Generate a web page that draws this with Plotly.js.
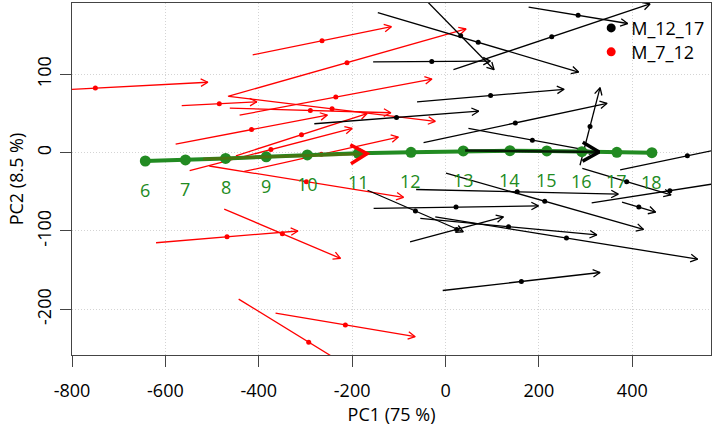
<!DOCTYPE html>
<html><head><meta charset="utf-8">
<script src="https://cdn.plot.ly/plotly-3.0.1.min.js"></script>
<style>html,body{margin:0;padding:0;background:#fff;} #chart{width:714px;height:427px;}</style>
</head><body><div id="chart"></div>
<script>
// ---- Data ----
// M_7_12 (red) arrows: start (x0,y0) -> end (x1,y1)
const redX0 = [-991, -413, -466, -565, -441, -462, -464, -578, -449, -548, -431, -506, -620, -474, -364, -443];
const redY0 = [75, 125, 72, 60, 48, 57, 72, 11, -4, -23, -24, -17, -115, -72, -205, -187];
const redX1 = [-509, -116, 44, -404, -29, -117, -22, -253, -168, -200, -101, -90, -316, -225, -65, -143];
const redY1 = [90, 161, 158, 65, 94, 51, 40, 48, 50, 31, 20, -57, -100, -135, -235, -297];
// M_12_17 (black) arrows
const blkX0 = [-39, -145, -155, 17, 178, -61, -281, -47, 49, 288, 374, 293, -167, -154, -54, -22, -63, 1, 313, 378, -6, -76];
const blkY0 = [193, 179, 116, 106, 186, 65, 37, 13, 31, -16, -22, -20, -48, -71, -84, -82, -47, -26, -64, -63, -176, -114];
const blkX1 = [104, 285, 96, 438, 390, 254, 71, 346, 323, 331, 662, 483, 38, 199, 324, 540, 370, 424, 648, 450, 331, 124];
const blkY1 = [106, 103, 117, 190, 165, 81, 53, 63, 1, 83, 14, -54, -101, -68, -105, -136, -53, -98, -33, -76, -153, -82];
// Mean trajectory by age
const ages = ['6','7','8','9','10','11','12','13','14','15','16','17','18'];
const ageX = [-643, -557, -471, -384, -296, -187, -74, 38, 138, 217, 292, 367, 442];
const ageY = [-10.6, -9.3, -7.3, -5.2, -2.9, -0.8, 0.5, 2.2, 2.6, 2.2, 1.3, 0.5, 0];
// Mean arrows of each group
const meanRedX = [-519, -168], meanRedY = [-8, -1.3];
const meanBlkX = [42, 329], meanBlkY = [2.8, 0.9];
const legendNames = ['M_12_17', 'M_7_12'];
const xTicks = [-800, -600, -400, -200, 0, 200, 400];
const yTicks = [-200, -100, 0, 100];

// ---- Layout geometry ----
const W = 714, H = 427, M = {l: 72, r: 3, t: 3, b: 72};
const XR = [-800, 568.6], YR = [-258.4, 191.2];
const kx = (W - M.l - M.r) / (XR[1] - XR[0]);
const ky = (H - M.t - M.b) / (YR[1] - YR[0]);

function arrowPath(x0s, y0s, x1s, y1s, len, ha) {
  const xs = [], ys = [];
  for (let i = 0; i < x0s.length; i++) {
    const x0 = x0s[i], y0 = y0s[i], x1 = x1s[i], y1 = y1s[i];
    const a = Math.atan2((y1 - y0) * ky, (x1 - x0) * kx);
    xs.push(x0, x1, null,
      x1 + len * Math.cos(a + Math.PI - ha) / kx, x1, x1 + len * Math.cos(a + Math.PI + ha) / kx, null);
    ys.push(y0, y1, null,
      y1 + len * Math.sin(a + Math.PI - ha) / ky, y1, y1 + len * Math.sin(a + Math.PI + ha) / ky, null);
  }
  return {x: xs, y: ys};
}
function headOnly(x0s, y0s, x1s, y1s, len, ha) {
  const p = arrowPath(x0s, y0s, x1s, y1s, len, ha);
  const xs = [], ys = [];
  for (let i = 0; i < p.x.length; i += 7) { xs.push(p.x[i+3], p.x[i+4], p.x[i+5], null); ys.push(p.y[i+3], p.y[i+4], p.y[i+5], null); }
  return {x: xs, y: ys};
}
const mid = (a, b) => a.map((v, i) => (v + b[i]) / 2);

const HA = 28 * Math.PI / 180;
const redP = arrowPath(redX0, redY0, redX1, redY1, 8, HA);
const blkP = arrowPath(blkX0, blkY0, blkX1, blkY1, 8, HA);
const mRedH = headOnly([meanRedX[0]], [meanRedY[0]], [meanRedX[1]], [meanRedY[1]], 19, 30 * Math.PI / 180);
const mBlkH = headOnly([meanBlkX[0]], [meanBlkY[0]], [meanBlkX[1]], [meanBlkY[1]], 19, 30 * Math.PI / 180);

const traces = [
  {x: redP.x, y: redP.y, mode: 'lines', line: {color: '#ff0000', width: 1.3}, showlegend: false, hoverinfo: 'skip'},
  {x: mid(redX0, redX1), y: mid(redY0, redY1), mode: 'markers', marker: {color: '#ff0000', size: 5}, showlegend: false},
  {x: blkP.x, y: blkP.y, mode: 'lines', line: {color: '#000000', width: 1.3}, showlegend: false, hoverinfo: 'skip'},
  {x: mid(blkX0, blkX1), y: mid(blkY0, blkY1), mode: 'markers', marker: {color: '#000000', size: 5}, showlegend: false},
  {x: ageX, y: ageY, mode: 'lines+markers', line: {color: '#228B22', width: 4}, marker: {color: '#228B22', size: 11}, showlegend: false},
  {x: meanRedX, y: meanRedY, mode: 'lines', line: {color: 'rgba(110,95,0,0.5)', width: 3}, showlegend: false},
  {x: mRedH.x, y: mRedH.y, mode: 'lines', line: {color: '#ff0000', width: 3.5}, showlegend: false},
  {x: meanBlkX, y: meanBlkY, mode: 'lines', line: {color: 'rgba(0,0,0,0.8)', width: 2.5}, showlegend: false},
  {x: mBlkH.x, y: mBlkH.y, mode: 'lines', line: {color: '#000000', width: 3.5}, showlegend: false},
  {x: [null], y: [null], mode: 'markers', name: legendNames[0], legend: 'legend', marker: {color: '#000000', size: 9}},
  {x: [null], y: [null], mode: 'markers', name: legendNames[1], legend: 'legend2', marker: {color: '#ff0000', size: 9}}
];

const annotations = ages.map((t, i) => ({
  x: ageX[i], y: ageY[i], xref: 'x', yref: 'y', text: t, showarrow: false,
  yshift: -29, font: {color: '#228B22', size: 18}
}));

const axisCommon = {
  showline: true, mirror: true, linecolor: '#444', linewidth: 1,
  ticks: 'outside', ticklen: 11, tickcolor: '#444', tickwidth: 1,
  showgrid: true, gridcolor: '#d4d4d4', griddash: '1px,2px', gridwidth: 1,
  zeroline: false, tickfont: {size: 18, color: '#000'}
};

const legendCommon = {x: 0.8125, xanchor: 'left', yanchor: 'top', bgcolor: 'rgba(0,0,0,0)', font: {size: 18}};

const layout = {
  width: W, height: H, margin: M,
  paper_bgcolor: '#fff', plot_bgcolor: '#fff',
  font: {family: 'Open Sans, sans-serif', size: 18, color: '#000'},
  xaxis: Object.assign({}, axisCommon, {
    range: XR, tickvals: xTicks, ticktext: xTicks.map(String), ticklabelstandoff: 8,
    title: {text: 'PC1 (75 %)', font: {size: 18}, standoff: 7}
  }),
  yaxis: Object.assign({}, axisCommon, {
    range: YR, tickvals: yTicks, ticktext: yTicks.map(String), tickangle: -90, ticklabelstandoff: 2,
    title: {text: 'PC2 (8.5 %)', font: {size: 18}, standoff: 3}
  }),
  showlegend: true,
  legend: Object.assign({}, legendCommon, {y: 0.981}),
  legend2: Object.assign({}, legendCommon, {y: 0.913}),
  annotations: annotations
};

Plotly.newPlot('chart', traces, layout, {staticPlot: true, displayModeBar: false});
</script>
</body></html>
